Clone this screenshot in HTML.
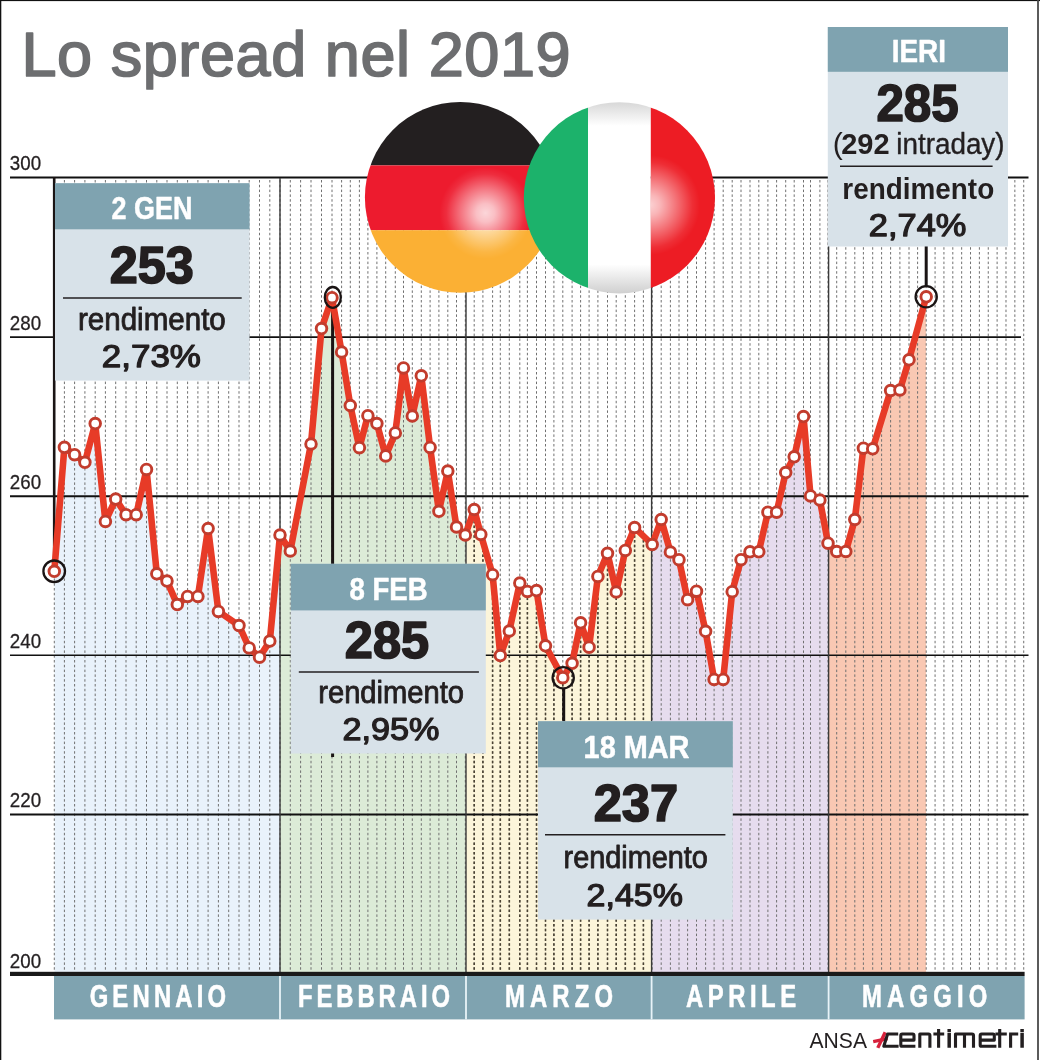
<!DOCTYPE html>
<html><head><meta charset="utf-8"><title>Lo spread nel 2019</title>
<style>
html,body{margin:0;padding:0;background:#fff;}
body{width:1040px;height:1060px;overflow:hidden;font-family:"Liberation Sans",sans-serif;}
svg{display:block;position:absolute;left:0;top:0;will-change:transform;}
text{font-family:"Liberation Sans",sans-serif;}
</style></head><body>
<svg width="1040" height="1060" viewBox="0 0 1040 1060">
<defs>
<clipPath id="m0"><rect x="54.3" y="170" width="225.7" height="802"/></clipPath>
<clipPath id="m1"><rect x="280" y="170" width="186" height="802"/></clipPath>
<clipPath id="m2"><rect x="466" y="170" width="185.6" height="802"/></clipPath>
<clipPath id="m3"><rect x="651.6" y="170" width="177" height="802"/></clipPath>
<clipPath id="m4"><rect x="828.6" y="170" width="97.8" height="802"/></clipPath>
<clipPath id="cDE"><circle cx="460.3" cy="197.4" r="95.4"/></clipPath>
<clipPath id="cIT"><circle cx="619.4" cy="197.8" r="95.6"/></clipPath>
<radialGradient id="hlDE" cx="485.5" cy="213" r="46" gradientUnits="userSpaceOnUse">
<stop offset="0" stop-color="#fff" stop-opacity="0.82"/><stop offset="0.2" stop-color="#fff" stop-opacity="0.72"/><stop offset="0.55" stop-color="#fff" stop-opacity="0.38"/><stop offset="0.85" stop-color="#fff" stop-opacity="0.08"/><stop offset="1" stop-color="#fff" stop-opacity="0"/></radialGradient>
<radialGradient id="hlIT" cx="650" cy="205" r="50" gradientUnits="userSpaceOnUse">
<stop offset="0" stop-color="#fff" stop-opacity="0.8"/><stop offset="0.2" stop-color="#fff" stop-opacity="0.68"/><stop offset="0.55" stop-color="#fff" stop-opacity="0.36"/><stop offset="0.85" stop-color="#fff" stop-opacity="0.08"/><stop offset="1" stop-color="#fff" stop-opacity="0"/></radialGradient>
<linearGradient id="itW" x1="0" y1="103" x2="0" y2="293" gradientUnits="userSpaceOnUse">
<stop offset="0" stop-color="#d9d9d9"/><stop offset="0.12" stop-color="#fff"/><stop offset="0.85" stop-color="#fff"/><stop offset="1" stop-color="#d0d0d0"/></linearGradient>
</defs>
<rect x="0" y="0" width="1040" height="1060" fill="#fff"/>
<polygon points="54.3,571.3 64.4,447.3 74.6,454.7 84.9,462.3 95.2,423.6 105.4,521.4 115.7,499.1 126,514.7 136.2,514.7 146.5,469.4 156.8,573.8 167,581.1 177.3,604.6 187.6,596.4 197.9,596.4 208.1,528.5 218.4,611.4 239,625.5 249.2,647.9 259.5,657.2 269.8,641.1 280,535 290.3,551 311,444 321.5,328.6 332,297.7 341.6,352 350.3,405.5 359.4,447.7 367.9,415.7 376.9,423.6 385.7,455.9 395.3,432.9 403.5,367.9 412.3,416 421.3,375.8 430.1,447.4 438.9,511.3 447.8,471.1 456.5,527 465.3,535 474.2,509.5 480.8,534.4 492.6,574.7 500.3,655.6 509.3,631 519.8,583 527.4,591.4 536.5,590.6 545.5,645.8 562.8,677.7 572.1,663.3 580.6,622.8 589.1,647.2 597.9,576.4 607.5,553.3 616.2,592 625.3,550.4 634.6,527.5 652.2,544.5 661.2,519.5 670.4,552 679,559.7 687.6,599.7 696.5,591.2 705.6,631.3 714.1,679.4 723.2,679.4 732.2,591.7 741,559.7 750,551.8 758.8,551.8 767.9,512.2 776.6,512.2 785.7,472.6 794.2,456.8 803.5,416.6 810.5,495.9 819.9,500 828,543.2 836.7,551.5 845.8,551.5 854.8,519.5 863.4,448.2 872.7,448.8 890.6,390.5 899.9,390 909,359.8 926.2,296.8 926.2,972 54.3,972" fill="#e9f2fb" clip-path="url(#m0)"/>
<polygon points="54.3,571.3 64.4,447.3 74.6,454.7 84.9,462.3 95.2,423.6 105.4,521.4 115.7,499.1 126,514.7 136.2,514.7 146.5,469.4 156.8,573.8 167,581.1 177.3,604.6 187.6,596.4 197.9,596.4 208.1,528.5 218.4,611.4 239,625.5 249.2,647.9 259.5,657.2 269.8,641.1 280,535 290.3,551 311,444 321.5,328.6 332,297.7 341.6,352 350.3,405.5 359.4,447.7 367.9,415.7 376.9,423.6 385.7,455.9 395.3,432.9 403.5,367.9 412.3,416 421.3,375.8 430.1,447.4 438.9,511.3 447.8,471.1 456.5,527 465.3,535 474.2,509.5 480.8,534.4 492.6,574.7 500.3,655.6 509.3,631 519.8,583 527.4,591.4 536.5,590.6 545.5,645.8 562.8,677.7 572.1,663.3 580.6,622.8 589.1,647.2 597.9,576.4 607.5,553.3 616.2,592 625.3,550.4 634.6,527.5 652.2,544.5 661.2,519.5 670.4,552 679,559.7 687.6,599.7 696.5,591.2 705.6,631.3 714.1,679.4 723.2,679.4 732.2,591.7 741,559.7 750,551.8 758.8,551.8 767.9,512.2 776.6,512.2 785.7,472.6 794.2,456.8 803.5,416.6 810.5,495.9 819.9,500 828,543.2 836.7,551.5 845.8,551.5 854.8,519.5 863.4,448.2 872.7,448.8 890.6,390.5 899.9,390 909,359.8 926.2,296.8 926.2,972 54.3,972" fill="#dcebd7" clip-path="url(#m1)"/>
<polygon points="54.3,571.3 64.4,447.3 74.6,454.7 84.9,462.3 95.2,423.6 105.4,521.4 115.7,499.1 126,514.7 136.2,514.7 146.5,469.4 156.8,573.8 167,581.1 177.3,604.6 187.6,596.4 197.9,596.4 208.1,528.5 218.4,611.4 239,625.5 249.2,647.9 259.5,657.2 269.8,641.1 280,535 290.3,551 311,444 321.5,328.6 332,297.7 341.6,352 350.3,405.5 359.4,447.7 367.9,415.7 376.9,423.6 385.7,455.9 395.3,432.9 403.5,367.9 412.3,416 421.3,375.8 430.1,447.4 438.9,511.3 447.8,471.1 456.5,527 465.3,535 474.2,509.5 480.8,534.4 492.6,574.7 500.3,655.6 509.3,631 519.8,583 527.4,591.4 536.5,590.6 545.5,645.8 562.8,677.7 572.1,663.3 580.6,622.8 589.1,647.2 597.9,576.4 607.5,553.3 616.2,592 625.3,550.4 634.6,527.5 652.2,544.5 661.2,519.5 670.4,552 679,559.7 687.6,599.7 696.5,591.2 705.6,631.3 714.1,679.4 723.2,679.4 732.2,591.7 741,559.7 750,551.8 758.8,551.8 767.9,512.2 776.6,512.2 785.7,472.6 794.2,456.8 803.5,416.6 810.5,495.9 819.9,500 828,543.2 836.7,551.5 845.8,551.5 854.8,519.5 863.4,448.2 872.7,448.8 890.6,390.5 899.9,390 909,359.8 926.2,296.8 926.2,972 54.3,972" fill="#fcf5da" clip-path="url(#m2)"/>
<polygon points="54.3,571.3 64.4,447.3 74.6,454.7 84.9,462.3 95.2,423.6 105.4,521.4 115.7,499.1 126,514.7 136.2,514.7 146.5,469.4 156.8,573.8 167,581.1 177.3,604.6 187.6,596.4 197.9,596.4 208.1,528.5 218.4,611.4 239,625.5 249.2,647.9 259.5,657.2 269.8,641.1 280,535 290.3,551 311,444 321.5,328.6 332,297.7 341.6,352 350.3,405.5 359.4,447.7 367.9,415.7 376.9,423.6 385.7,455.9 395.3,432.9 403.5,367.9 412.3,416 421.3,375.8 430.1,447.4 438.9,511.3 447.8,471.1 456.5,527 465.3,535 474.2,509.5 480.8,534.4 492.6,574.7 500.3,655.6 509.3,631 519.8,583 527.4,591.4 536.5,590.6 545.5,645.8 562.8,677.7 572.1,663.3 580.6,622.8 589.1,647.2 597.9,576.4 607.5,553.3 616.2,592 625.3,550.4 634.6,527.5 652.2,544.5 661.2,519.5 670.4,552 679,559.7 687.6,599.7 696.5,591.2 705.6,631.3 714.1,679.4 723.2,679.4 732.2,591.7 741,559.7 750,551.8 758.8,551.8 767.9,512.2 776.6,512.2 785.7,472.6 794.2,456.8 803.5,416.6 810.5,495.9 819.9,500 828,543.2 836.7,551.5 845.8,551.5 854.8,519.5 863.4,448.2 872.7,448.8 890.6,390.5 899.9,390 909,359.8 926.2,296.8 926.2,972 54.3,972" fill="#e6dcee" clip-path="url(#m3)"/>
<polygon points="54.3,571.3 64.4,447.3 74.6,454.7 84.9,462.3 95.2,423.6 105.4,521.4 115.7,499.1 126,514.7 136.2,514.7 146.5,469.4 156.8,573.8 167,581.1 177.3,604.6 187.6,596.4 197.9,596.4 208.1,528.5 218.4,611.4 239,625.5 249.2,647.9 259.5,657.2 269.8,641.1 280,535 290.3,551 311,444 321.5,328.6 332,297.7 341.6,352 350.3,405.5 359.4,447.7 367.9,415.7 376.9,423.6 385.7,455.9 395.3,432.9 403.5,367.9 412.3,416 421.3,375.8 430.1,447.4 438.9,511.3 447.8,471.1 456.5,527 465.3,535 474.2,509.5 480.8,534.4 492.6,574.7 500.3,655.6 509.3,631 519.8,583 527.4,591.4 536.5,590.6 545.5,645.8 562.8,677.7 572.1,663.3 580.6,622.8 589.1,647.2 597.9,576.4 607.5,553.3 616.2,592 625.3,550.4 634.6,527.5 652.2,544.5 661.2,519.5 670.4,552 679,559.7 687.6,599.7 696.5,591.2 705.6,631.3 714.1,679.4 723.2,679.4 732.2,591.7 741,559.7 750,551.8 758.8,551.8 767.9,512.2 776.6,512.2 785.7,472.6 794.2,456.8 803.5,416.6 810.5,495.9 819.9,500 828,543.2 836.7,551.5 845.8,551.5 854.8,519.5 863.4,448.2 872.7,448.8 890.6,390.5 899.9,390 909,359.8 926.2,296.8 926.2,972 54.3,972" fill="#f9c8b3" clip-path="url(#m4)"/>
<g stroke="#707070" stroke-width="1" stroke-dasharray="2.5 2.3" fill="none">
<path d="M54.3 180V972"/>
<path d="M64.4 180V972"/>
<path d="M74.6 180V972"/>
<path d="M84.9 180V972"/>
<path d="M95.2 180V972"/>
<path d="M105.4 180V972"/>
<path d="M115.7 180V972"/>
<path d="M126 180V972"/>
<path d="M136.2 180V972"/>
<path d="M146.5 180V972"/>
<path d="M156.8 180V972"/>
<path d="M167 180V972"/>
<path d="M177.3 180V972"/>
<path d="M187.6 180V972"/>
<path d="M197.9 180V972"/>
<path d="M208.1 180V972"/>
<path d="M218.4 180V972"/>
<path d="M228.7 180V972"/>
<path d="M239 180V972"/>
<path d="M249.2 180V972"/>
<path d="M259.5 180V972"/>
<path d="M269.8 180V972"/>
<path d="M280 180V972"/>
<path d="M290.3 180V972"/>
<path d="M300.6 180V972"/>
<path d="M311 180V972"/>
<path d="M321.5 180V972"/>
<path d="M332 180V972"/>
<path d="M341.6 180V972"/>
<path d="M350.3 180V972"/>
<path d="M359.4 180V972"/>
<path d="M367.9 180V972"/>
<path d="M376.9 180V972"/>
<path d="M385.7 180V972"/>
<path d="M395.3 180V972"/>
<path d="M403.5 180V972"/>
<path d="M412.3 180V972"/>
<path d="M421.3 180V972"/>
<path d="M430.1 180V972"/>
<path d="M438.9 180V972"/>
<path d="M447.8 180V972"/>
<path d="M456.5 180V972"/>
<path d="M465.3 180V972"/>
<path d="M474.2 180V972"/>
<path d="M482.9 180V972"/>
<path d="M492.6 180V972"/>
<path d="M500.3 180V972"/>
<path d="M509.3 180V972"/>
<path d="M519.8 180V972"/>
<path d="M527.4 180V972"/>
<path d="M536.5 180V972"/>
<path d="M545.5 180V972"/>
<path d="M553.9 180V972"/>
<path d="M562.8 180V972"/>
<path d="M572.1 180V972"/>
<path d="M580.6 180V972"/>
<path d="M589.1 180V972"/>
<path d="M597.9 180V972"/>
<path d="M607.5 180V972"/>
<path d="M616.2 180V972"/>
<path d="M625.3 180V972"/>
<path d="M634.6 180V972"/>
<path d="M643.4 180V972"/>
<path d="M652.2 180V972"/>
<path d="M661.2 180V972"/>
<path d="M670.4 180V972"/>
<path d="M679 180V972"/>
<path d="M687.6 180V972"/>
<path d="M696.5 180V972"/>
<path d="M705.6 180V972"/>
<path d="M714.1 180V972"/>
<path d="M723.2 180V972"/>
<path d="M732.2 180V972"/>
<path d="M741 180V972"/>
<path d="M750 180V972"/>
<path d="M758.8 180V972"/>
<path d="M767.9 180V972"/>
<path d="M776.6 180V972"/>
<path d="M785.7 180V972"/>
<path d="M794.2 180V972"/>
<path d="M803.5 180V972"/>
<path d="M810.5 180V972"/>
<path d="M819.9 180V972"/>
<path d="M828 180V972"/>
<path d="M836.7 180V972"/>
<path d="M845.8 180V972"/>
<path d="M854.8 180V972"/>
<path d="M863.4 180V972"/>
<path d="M872.7 180V972"/>
<path d="M881.6 180V972"/>
<path d="M890.6 180V972"/>
<path d="M899.9 180V972"/>
<path d="M909 180V972"/>
<path d="M917.6 180V972"/>
<path d="M926.2 180V972"/>
<path d="M935.07 180V972"/>
<path d="M943.93 180V972"/>
<path d="M952.8 180V972"/>
<path d="M961.66 180V972"/>
<path d="M970.53 180V972"/>
<path d="M979.39 180V972"/>
<path d="M988.25 180V972"/>
<path d="M997.12 180V972"/>
<path d="M1005.99 180V972"/>
<path d="M1014.85 180V972"/>
<path d="M1023.72 180V972"/>
</g>
<clipPath id="marfill"><polygon points="54.3,571.3 64.4,447.3 74.6,454.7 84.9,462.3 95.2,423.6 105.4,521.4 115.7,499.1 126,514.7 136.2,514.7 146.5,469.4 156.8,573.8 167,581.1 177.3,604.6 187.6,596.4 197.9,596.4 208.1,528.5 218.4,611.4 239,625.5 249.2,647.9 259.5,657.2 269.8,641.1 280,535 290.3,551 311,444 321.5,328.6 332,297.7 341.6,352 350.3,405.5 359.4,447.7 367.9,415.7 376.9,423.6 385.7,455.9 395.3,432.9 403.5,367.9 412.3,416 421.3,375.8 430.1,447.4 438.9,511.3 447.8,471.1 456.5,527 465.3,535 474.2,509.5 480.8,534.4 492.6,574.7 500.3,655.6 509.3,631 519.8,583 527.4,591.4 536.5,590.6 545.5,645.8 562.8,677.7 572.1,663.3 580.6,622.8 589.1,647.2 597.9,576.4 607.5,553.3 616.2,592 625.3,550.4 634.6,527.5 652.2,544.5 661.2,519.5 670.4,552 679,559.7 687.6,599.7 696.5,591.2 705.6,631.3 714.1,679.4 723.2,679.4 732.2,591.7 741,559.7 750,551.8 758.8,551.8 767.9,512.2 776.6,512.2 785.7,472.6 794.2,456.8 803.5,416.6 810.5,495.9 819.9,500 828,543.2 836.7,551.5 845.8,551.5 854.8,519.5 863.4,448.2 872.7,448.8 890.6,390.5 899.9,390 909,359.8 926.2,296.8 926.2,972 54.3,972"/></clipPath>
<g clip-path="url(#m2)"><g clip-path="url(#marfill)" stroke="#4a4232" stroke-width="1.6" stroke-dasharray="2.5 2.3" fill="none">
<path d="M474.2 180V972"/>
<path d="M482.9 180V972"/>
<path d="M492.6 180V972"/>
<path d="M500.3 180V972"/>
<path d="M509.3 180V972"/>
<path d="M519.8 180V972"/>
<path d="M527.4 180V972"/>
<path d="M536.5 180V972"/>
<path d="M545.5 180V972"/>
<path d="M553.9 180V972"/>
<path d="M562.8 180V972"/>
<path d="M572.1 180V972"/>
<path d="M580.6 180V972"/>
<path d="M589.1 180V972"/>
<path d="M597.9 180V972"/>
<path d="M607.5 180V972"/>
<path d="M616.2 180V972"/>
<path d="M625.3 180V972"/>
<path d="M634.6 180V972"/>
<path d="M643.4 180V972"/>
</g></g>
<path d="M10 177.5H1028.5" stroke="#111" stroke-width="2.2"/>
<path d="M10 337.1H1021" stroke="#111" stroke-width="1.6"/>
<path d="M10 496.2H1028.5" stroke="#111" stroke-width="2"/>
<path d="M10 655.3H1028.5" stroke="#111" stroke-width="1.6"/>
<path d="M10 814.4H1028.5" stroke="#111" stroke-width="2"/>
<path d="M280 178V976" stroke="#3a3a3a" stroke-width="1.4"/>
<path d="M466 178V976" stroke="#3a3a3a" stroke-width="1.4"/>
<path d="M651.6 178V976" stroke="#3a3a3a" stroke-width="1.4"/>
<path d="M828.6 178V976" stroke="#3a3a3a" stroke-width="1.4"/>
<path d="M54.2 177V560" stroke="#1a1414" stroke-width="2.6"/>
<path d="M332.6 300V757" stroke="#1a1414" stroke-width="3"/>
<path d="M563.7 688V725" stroke="#1a1414" stroke-width="3"/>
<path d="M926.2 240V286" stroke="#1a1414" stroke-width="3"/>
<polyline points="54.3,571.3 64.4,447.3 74.6,454.7 84.9,462.3 95.2,423.6 105.4,521.4 115.7,499.1 126,514.7 136.2,514.7 146.5,469.4 156.8,573.8 167,581.1 177.3,604.6 187.6,596.4 197.9,596.4 208.1,528.5 218.4,611.4 239,625.5 249.2,647.9 259.5,657.2 269.8,641.1 280,535 290.3,551 311,444 321.5,328.6 332,297.7 341.6,352 350.3,405.5 359.4,447.7 367.9,415.7 376.9,423.6 385.7,455.9 395.3,432.9 403.5,367.9 412.3,416 421.3,375.8 430.1,447.4 438.9,511.3 447.8,471.1 456.5,527 465.3,535 474.2,509.5 480.8,534.4 492.6,574.7 500.3,655.6 509.3,631 519.8,583 527.4,591.4 536.5,590.6 545.5,645.8 562.8,677.7 572.1,663.3 580.6,622.8 589.1,647.2 597.9,576.4 607.5,553.3 616.2,592 625.3,550.4 634.6,527.5 652.2,544.5 661.2,519.5 670.4,552 679,559.7 687.6,599.7 696.5,591.2 705.6,631.3 714.1,679.4 723.2,679.4 732.2,591.7 741,559.7 750,551.8 758.8,551.8 767.9,512.2 776.6,512.2 785.7,472.6 794.2,456.8 803.5,416.6 810.5,495.9 819.9,500 828,543.2 836.7,551.5 845.8,551.5 854.8,519.5 863.4,448.2 872.7,448.8 890.6,390.5 899.9,390 909,359.8 926.2,296.8" fill="none" stroke="#e73b27" stroke-width="6.6" stroke-linejoin="round" stroke-linecap="round"/>
<g fill="#fff" stroke="#c23c2d" stroke-width="2.9">
<circle cx="54.3" cy="571.3" r="5.3"/>
<circle cx="64.4" cy="447.3" r="5.3"/>
<circle cx="74.6" cy="454.7" r="5.3"/>
<circle cx="84.9" cy="462.3" r="5.3"/>
<circle cx="95.2" cy="423.6" r="5.3"/>
<circle cx="105.4" cy="521.4" r="5.3"/>
<circle cx="115.7" cy="499.1" r="5.3"/>
<circle cx="126" cy="514.7" r="5.3"/>
<circle cx="136.2" cy="514.7" r="5.3"/>
<circle cx="146.5" cy="469.4" r="5.3"/>
<circle cx="156.8" cy="573.8" r="5.3"/>
<circle cx="167" cy="581.1" r="5.3"/>
<circle cx="177.3" cy="604.6" r="5.3"/>
<circle cx="187.6" cy="596.4" r="5.3"/>
<circle cx="197.9" cy="596.4" r="5.3"/>
<circle cx="208.1" cy="528.5" r="5.3"/>
<circle cx="218.4" cy="611.4" r="5.3"/>
<circle cx="239" cy="625.5" r="5.3"/>
<circle cx="249.2" cy="647.9" r="5.3"/>
<circle cx="259.5" cy="657.2" r="5.3"/>
<circle cx="269.8" cy="641.1" r="5.3"/>
<circle cx="280" cy="535" r="5.3"/>
<circle cx="290.3" cy="551" r="5.3"/>
<circle cx="311" cy="444" r="5.3"/>
<circle cx="321.5" cy="328.6" r="5.3"/>
<circle cx="332" cy="297.7" r="5.3"/>
<circle cx="341.6" cy="352" r="5.3"/>
<circle cx="350.3" cy="405.5" r="5.3"/>
<circle cx="359.4" cy="447.7" r="5.3"/>
<circle cx="367.9" cy="415.7" r="5.3"/>
<circle cx="376.9" cy="423.6" r="5.3"/>
<circle cx="385.7" cy="455.9" r="5.3"/>
<circle cx="395.3" cy="432.9" r="5.3"/>
<circle cx="403.5" cy="367.9" r="5.3"/>
<circle cx="412.3" cy="416" r="5.3"/>
<circle cx="421.3" cy="375.8" r="5.3"/>
<circle cx="430.1" cy="447.4" r="5.3"/>
<circle cx="438.9" cy="511.3" r="5.3"/>
<circle cx="447.8" cy="471.1" r="5.3"/>
<circle cx="456.5" cy="527" r="5.3"/>
<circle cx="465.3" cy="535" r="5.3"/>
<circle cx="474.2" cy="509.5" r="5.3"/>
<circle cx="480.8" cy="534.4" r="5.3"/>
<circle cx="492.6" cy="574.7" r="5.3"/>
<circle cx="500.3" cy="655.6" r="5.3"/>
<circle cx="509.3" cy="631" r="5.3"/>
<circle cx="519.8" cy="583" r="5.3"/>
<circle cx="527.4" cy="591.4" r="5.3"/>
<circle cx="536.5" cy="590.6" r="5.3"/>
<circle cx="545.5" cy="645.8" r="5.3"/>
<circle cx="562.8" cy="677.7" r="5.3"/>
<circle cx="572.1" cy="663.3" r="5.3"/>
<circle cx="580.6" cy="622.8" r="5.3"/>
<circle cx="589.1" cy="647.2" r="5.3"/>
<circle cx="597.9" cy="576.4" r="5.3"/>
<circle cx="607.5" cy="553.3" r="5.3"/>
<circle cx="616.2" cy="592" r="5.3"/>
<circle cx="625.3" cy="550.4" r="5.3"/>
<circle cx="634.6" cy="527.5" r="5.3"/>
<circle cx="652.2" cy="544.5" r="5.3"/>
<circle cx="661.2" cy="519.5" r="5.3"/>
<circle cx="670.4" cy="552" r="5.3"/>
<circle cx="679" cy="559.7" r="5.3"/>
<circle cx="687.6" cy="599.7" r="5.3"/>
<circle cx="696.5" cy="591.2" r="5.3"/>
<circle cx="705.6" cy="631.3" r="5.3"/>
<circle cx="714.1" cy="679.4" r="5.3"/>
<circle cx="723.2" cy="679.4" r="5.3"/>
<circle cx="732.2" cy="591.7" r="5.3"/>
<circle cx="741" cy="559.7" r="5.3"/>
<circle cx="750" cy="551.8" r="5.3"/>
<circle cx="758.8" cy="551.8" r="5.3"/>
<circle cx="767.9" cy="512.2" r="5.3"/>
<circle cx="776.6" cy="512.2" r="5.3"/>
<circle cx="785.7" cy="472.6" r="5.3"/>
<circle cx="794.2" cy="456.8" r="5.3"/>
<circle cx="803.5" cy="416.6" r="5.3"/>
<circle cx="810.5" cy="495.9" r="5.3"/>
<circle cx="819.9" cy="500" r="5.3"/>
<circle cx="828" cy="543.2" r="5.3"/>
<circle cx="836.7" cy="551.5" r="5.3"/>
<circle cx="845.8" cy="551.5" r="5.3"/>
<circle cx="854.8" cy="519.5" r="5.3"/>
<circle cx="863.4" cy="448.2" r="5.3"/>
<circle cx="872.7" cy="448.8" r="5.3"/>
<circle cx="890.6" cy="390.5" r="5.3"/>
<circle cx="899.9" cy="390" r="5.3"/>
<circle cx="909" cy="359.8" r="5.3"/>
<circle cx="926.2" cy="296.8" r="5.3"/>
</g>
<g fill="none" stroke="#1a1414" stroke-width="2.3">
<circle cx="54.2" cy="571.3" r="10.8"/>
<ellipse cx="332.8" cy="297.4" rx="8" ry="10.4"/>
<circle cx="563.2" cy="677.7" r="10.6"/>
<circle cx="926.2" cy="296.8" r="10.6"/>
</g>
<rect x="10" y="971.8" width="1014.6" height="4.2" fill="#1a1a1a"/>
<rect x="54" y="976" width="970.6" height="43.4" fill="#7fa3b0"/>
<rect x="279.1" y="976" width="1.8" height="43.4" fill="#e8f3f8"/>
<rect x="465.1" y="976" width="1.8" height="43.4" fill="#e8f3f8"/>
<rect x="650.7" y="976" width="1.8" height="43.4" fill="#e8f3f8"/>
<rect x="827.7" y="976" width="1.8" height="43.4" fill="#e8f3f8"/>
<text x="21.39" y="75.7" font-size="63" font-weight="normal" fill="#6d6e70" textLength="549.2" lengthAdjust="spacing" stroke="#6d6e70" stroke-width="1.7" stroke-linejoin="round">Lo spread nel 2019</text>
<text x="9.87" y="170.2" font-size="20.6" font-weight="normal" fill="#231f20" textLength="31.25" lengthAdjust="spacingAndGlyphs" stroke="#231f20" stroke-width="0.3" stroke-linejoin="round">300</text>
<text x="9.87" y="329.5" font-size="20.6" font-weight="normal" fill="#231f20" textLength="31.25" lengthAdjust="spacingAndGlyphs" stroke="#231f20" stroke-width="0.3" stroke-linejoin="round">280</text>
<text x="9.87" y="488.5" font-size="20.6" font-weight="normal" fill="#231f20" textLength="31.25" lengthAdjust="spacingAndGlyphs" stroke="#231f20" stroke-width="0.3" stroke-linejoin="round">260</text>
<text x="9.87" y="647.5" font-size="20.6" font-weight="normal" fill="#231f20" textLength="31.25" lengthAdjust="spacingAndGlyphs" stroke="#231f20" stroke-width="0.3" stroke-linejoin="round">240</text>
<text x="9.87" y="806.5" font-size="20.6" font-weight="normal" fill="#231f20" textLength="31.25" lengthAdjust="spacingAndGlyphs" stroke="#231f20" stroke-width="0.3" stroke-linejoin="round">220</text>
<text x="9.87" y="967.8" font-size="20.6" font-weight="normal" fill="#231f20" textLength="31.25" lengthAdjust="spacingAndGlyphs" stroke="#231f20" stroke-width="0.3" stroke-linejoin="round">200</text>
<g transform="translate(89.63 1006.6) scale(0.76 1)"><text x="0" y="0" font-size="31.4" font-weight="bold" fill="#fff" textLength="179.54" lengthAdjust="spacing" stroke="#fff" stroke-width="0.6" stroke-linejoin="round">GENNAIO</text></g>
<g transform="translate(297.93 1006.6) scale(0.76 1)"><text x="0" y="0" font-size="31.4" font-weight="bold" fill="#fff" textLength="200.19" lengthAdjust="spacing" stroke="#fff" stroke-width="0.6" stroke-linejoin="round">FEBBRAIO</text></g>
<g transform="translate(504.93 1006.6) scale(0.76 1)"><text x="0" y="0" font-size="31.4" font-weight="bold" fill="#fff" textLength="142.3" lengthAdjust="spacing" stroke="#fff" stroke-width="0.6" stroke-linejoin="round">MARZO</text></g>
<g transform="translate(685.93 1006.6) scale(0.76 1)"><text x="0" y="0" font-size="31.4" font-weight="bold" fill="#fff" textLength="144.93" lengthAdjust="spacing" stroke="#fff" stroke-width="0.6" stroke-linejoin="round">APRILE</text></g>
<g transform="translate(861.93 1006.6) scale(0.76 1)"><text x="0" y="0" font-size="31.4" font-weight="bold" fill="#fff" textLength="165.06" lengthAdjust="spacing" stroke="#fff" stroke-width="0.6" stroke-linejoin="round">MAGGIO</text></g>
<rect x="55" y="183.2" width="194.5" height="197.4" fill="#d8e2e9"/>
<rect x="55" y="183.2" width="194.5" height="46.1" fill="#7fa3b0"/>
<text x="111.58" y="219.2" font-size="31.6" font-weight="bold" fill="#fff" textLength="80.84" lengthAdjust="spacingAndGlyphs" stroke="#fff" stroke-width="0.5" stroke-linejoin="round">2 GEN</text>
<text x="109.66" y="283.3" font-size="52" font-weight="bold" fill="#231f20" textLength="84.08" lengthAdjust="spacingAndGlyphs" stroke="#231f20" stroke-width="1.7" stroke-linejoin="round">253</text>
<path d="M63 298H241.7" stroke="#231f20" stroke-width="1.5"/>
<text x="77.91" y="330.3" font-size="31" font-weight="normal" fill="#231f20" textLength="147.89" lengthAdjust="spacingAndGlyphs" stroke="#231f20" stroke-width="0.85" stroke-linejoin="round">rendimento</text>
<text x="101.81" y="366.9" font-size="31" font-weight="normal" fill="#231f20" textLength="99.19" lengthAdjust="spacingAndGlyphs" stroke="#231f20" stroke-width="1.25" stroke-linejoin="round">2,73%</text>
<rect x="290.8" y="563.8" width="195" height="189.7" fill="#d8e2e9"/>
<rect x="290.8" y="563.8" width="195" height="46.6" fill="#7fa3b0"/>
<text x="349.38" y="599.5" font-size="31.6" font-weight="bold" fill="#fff" textLength="78.24" lengthAdjust="spacingAndGlyphs" stroke="#fff" stroke-width="0.5" stroke-linejoin="round">8 FEB</text>
<text x="344.86" y="657.7" font-size="52" font-weight="bold" fill="#231f20" textLength="84.28" lengthAdjust="spacingAndGlyphs" stroke="#231f20" stroke-width="1.7" stroke-linejoin="round">285</text>
<path d="M298.8 672H478.9" stroke="#231f20" stroke-width="1.5"/>
<text x="318.21" y="703.4" font-size="31" font-weight="normal" fill="#231f20" textLength="145.89" lengthAdjust="spacingAndGlyphs" stroke="#231f20" stroke-width="0.85" stroke-linejoin="round">rendimento</text>
<text x="342.41" y="740.3" font-size="31" font-weight="normal" fill="#231f20" textLength="96.99" lengthAdjust="spacingAndGlyphs" stroke="#231f20" stroke-width="1.25" stroke-linejoin="round">2,95%</text>
<rect x="538" y="721.2" width="194.8" height="198.4" fill="#d8e2e9"/>
<rect x="538" y="721.2" width="194.8" height="46.1" fill="#7fa3b0"/>
<text x="583.58" y="757.6" font-size="31.6" font-weight="bold" fill="#fff" textLength="105.84" lengthAdjust="spacingAndGlyphs" stroke="#fff" stroke-width="0.5" stroke-linejoin="round">18 MAR</text>
<text x="593.66" y="821" font-size="52" font-weight="bold" fill="#231f20" textLength="84.48" lengthAdjust="spacingAndGlyphs" stroke="#231f20" stroke-width="1.7" stroke-linejoin="round">237</text>
<path d="M545 834.7H725.4" stroke="#231f20" stroke-width="1.5"/>
<text x="563.61" y="868.4" font-size="31" font-weight="normal" fill="#231f20" textLength="144.29" lengthAdjust="spacingAndGlyphs" stroke="#231f20" stroke-width="0.85" stroke-linejoin="round">rendimento</text>
<text x="586.61" y="905.8" font-size="31" font-weight="normal" fill="#231f20" textLength="96.29" lengthAdjust="spacingAndGlyphs" stroke="#231f20" stroke-width="1.25" stroke-linejoin="round">2,45%</text>
<rect x="827.8" y="27" width="180.2" height="219.5" fill="#d8e2e9"/>
<rect x="827.8" y="27" width="180.2" height="44.8" fill="#7fa3b0"/>
<text x="891.78" y="62.4" font-size="31.6" font-weight="bold" fill="#fff" textLength="54.14" lengthAdjust="spacingAndGlyphs" stroke="#fff" stroke-width="0.5" stroke-linejoin="round">IERI</text>
<text x="876.46" y="120.8" font-size="52" font-weight="bold" fill="#231f20" textLength="82.18" lengthAdjust="spacingAndGlyphs" stroke="#231f20" stroke-width="1.7" stroke-linejoin="round">285</text>
<path d="M840 166.3H992.6" stroke="#231f20" stroke-width="1.5"/>
<text x="842.27" y="198.6" font-size="29.5" font-weight="bold" fill="#231f20" textLength="151.95" lengthAdjust="spacingAndGlyphs">rendimento</text>
<text x="868.81" y="235.8" font-size="31" font-weight="normal" fill="#231f20" textLength="97.59" lengthAdjust="spacingAndGlyphs" stroke="#231f20" stroke-width="1.25" stroke-linejoin="round">2,74%</text>
<text x="832.84" y="154.2" font-size="30.3" font-weight="normal" fill="#231f20" textLength="10.03" lengthAdjust="spacingAndGlyphs">(</text>
<text x="841.14" y="154.2" font-size="30.3" font-weight="bold" fill="#231f20" textLength="48.43" lengthAdjust="spacingAndGlyphs">292</text>
<text x="896.24" y="154.2" font-size="30.3" font-weight="normal" fill="#231f20" textLength="108.33" lengthAdjust="spacingAndGlyphs" stroke="#231f20" stroke-width="0.4" stroke-linejoin="round">intraday)</text>
<g clip-path="url(#cDE)"><rect x="360" y="100" width="200" height="65.4" fill="#231f20"/><rect x="360" y="165.4" width="200" height="64.8" fill="#ed1b2e"/><rect x="360" y="230.2" width="200" height="65" fill="#fbb034"/><rect x="360" y="165.4" width="200" height="130" fill="url(#hlDE)"/></g>
<g clip-path="url(#cIT)"><rect x="520" y="100" width="68" height="200" fill="#1cb26b"/><rect x="588" y="100" width="62.8" height="200" fill="url(#itW)"/><rect x="650.8" y="100" width="70" height="200" fill="#ed1c24"/><rect x="650.8" y="100" width="70" height="200" fill="url(#hlIT)"/></g>
<text x="809.54" y="1047.5" font-size="21.4" font-weight="normal" fill="#231f20" textLength="57.43" lengthAdjust="spacingAndGlyphs">ANSA</text>
<g stroke="#d7213b" stroke-width="3.4" fill="none" stroke-linecap="butt"><path d="M873.2 1041.6L887.6 1038.7"/><path d="M885.2 1032.2L877.8 1047.9"/></g>
<g stroke="#231f20" stroke-width="3.1" fill="none" stroke-linejoin="round" stroke-linecap="butt">
<path d="M898.2 1034.0H887.6L883.8 1046.3H898.6"/>
<path d="M915.4 1046.3H902.2Q900.8 1046.3 900.8 1044.8999999999999V1035.4Q900.8 1034.0 902.2 1034.0H912.6Q914 1034.0 914 1035.4V1040.1H900.8"/>
<path d="M919.8 1047.7V1034.0H928.4Q929.9 1034.0 929.9 1035.5V1047.7"/>
<path d="M938.6 1029.1V1047.7M933.4 1034.0H944.2"/>
<path d="M949.2 1032.7V1047.7M949.2 1029.1V1031.8999999999999" stroke-width="3.5"/>
<path d="M955.5 1047.7V1034.0H972Q973.5 1034.0 973.5 1035.5V1047.7M964.5 1034.0V1047.7"/>
<path d="M996.4 1046.3H981.6Q980.2 1046.3 980.2 1044.8999999999999V1035.4Q980.2 1034.0 981.6 1034.0H992.9Q994.3 1034.0 994.3 1035.4V1040.1H980.2"/>
<path d="M999.7 1029.1V1047.7M995.4 1034.0H1006.8M1009.1 1034.0H1018.2M1010.6 1034.0V1047.7"/>
<path d="M1022.1 1032.7V1047.7M1022.1 1029.1V1031.8999999999999" stroke-width="3.5"/>
</g>
<rect x="0" y="0" width="1040" height="1.1" fill="#111"/>
<rect x="0" y="0" width="1.3" height="1060" fill="#111"/>
<rect x="1037.1" y="0" width="1.8" height="1060" fill="#4a4a4a"/>
</svg></body></html>
